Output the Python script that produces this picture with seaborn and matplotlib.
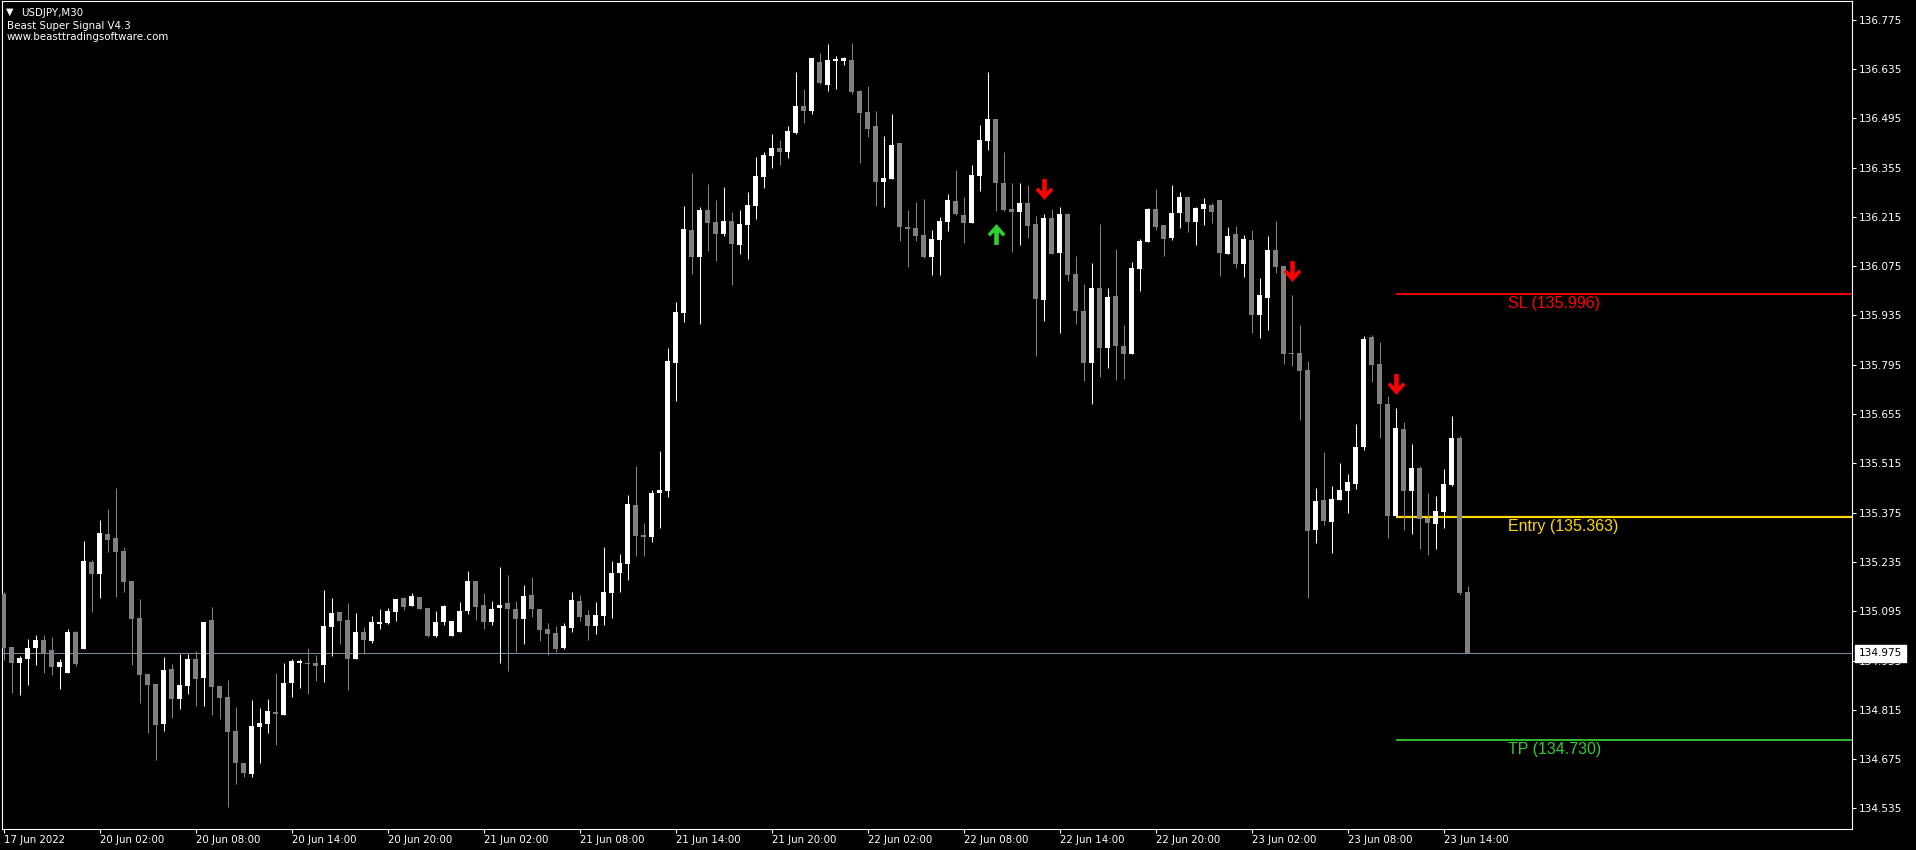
import numpy as np
import matplotlib
matplotlib.use("Agg")
import matplotlib.pyplot as plt
import matplotlib.transforms as mtransforms
from matplotlib.path import Path
import seaborn as sns

header_lines = ["USDJPY,M30", "Beast Super Signal V4.3", "www.beasttradingsoftware.com"]

opens = [135.144, 134.994, 134.948, 134.959, 134.991, 135.013, 134.985, 134.937, 134.920, 135.036,
         134.988, 135.235, 135.201, 135.314, 135.303, 135.266, 135.181, 135.076, 134.917, 134.888,
         134.775, 134.931, 134.846, 134.883, 134.959, 134.906, 135.070, 134.883, 134.852, 134.755,
         134.664, 134.633, 134.766, 134.775, 134.809, 134.800, 134.891, 134.948, 134.948, 134.948,
         134.942, 135.050, 135.093, 135.070, 134.959, 135.036, 135.011, 135.059, 135.062, 135.093,
         135.133, 135.110, 135.136, 135.104, 135.025, 135.065, 135.025, 135.036, 135.096, 135.181,
         135.113, 135.065, 135.104, 135.118, 135.101, 135.073, 135.141, 135.101, 135.045, 135.033,
         134.991, 135.047, 135.124, 135.085, 135.053, 135.082, 135.147, 135.204, 135.229, 135.397,
         135.312, 135.306, 135.431, 135.437, 135.800, 135.942, 136.178, 136.101, 136.235, 136.201,
         136.166, 136.203, 136.135, 136.192, 136.246, 136.328, 136.388, 136.411, 136.399, 136.453,
         136.530, 136.516, 136.655, 136.590, 136.658, 136.658, 136.661, 136.573, 136.513, 136.473,
         136.314, 136.323, 136.425, 136.186, 136.183, 136.164, 136.101, 136.149, 136.201, 136.260,
         136.220, 136.198, 136.331, 136.431, 136.493, 136.311, 136.237, 136.229, 136.254, 136.195,
         135.979, 136.212, 136.112, 136.223, 136.053, 135.948, 135.800, 136.013, 135.843, 135.990,
         135.848, 135.826, 136.067, 136.144, 136.237, 136.192, 136.155, 136.226, 136.272, 136.201,
         136.237, 136.249, 136.263, 136.110, 136.166, 136.081, 136.149, 135.936, 135.985, 136.121,
         136.076, 135.829, 135.828, 135.780, 135.326, 135.411, 135.349, 135.411, 135.437, 135.456,
         135.562, 135.874, 135.797, 135.684, 135.366, 135.613, 135.437, 135.502, 135.360, 135.343,
         135.377, 135.454, 135.587, 135.150]

highs = [135.150, 134.994, 134.968, 135.016, 135.028, 135.028, 135.022, 134.959, 135.045, 135.039,
         135.295, 135.241, 135.354, 135.385, 135.445, 135.278, 135.181, 135.130, 134.917, 134.888,
         134.965, 134.945, 134.974, 134.974, 134.982, 135.065, 135.107, 134.883, 134.900, 134.823,
         134.664, 134.843, 134.820, 134.846, 134.920, 134.948, 134.959, 134.959, 134.991, 134.971,
         135.155, 135.133, 135.093, 135.118, 135.090, 135.050, 135.082, 135.101, 135.104, 135.130,
         135.136, 135.147, 135.136, 135.104, 135.096, 135.113, 135.067, 135.121, 135.209, 135.181,
         135.147, 135.124, 135.221, 135.198, 135.124, 135.170, 135.192, 135.101, 135.062, 135.053,
         135.062, 135.150, 135.141, 135.099, 135.121, 135.278, 135.238, 135.258, 135.425, 135.508,
         135.346, 135.439, 135.550, 135.843, 135.973, 136.246, 136.340, 136.243, 136.308, 136.263,
         136.300, 136.229, 136.235, 136.286, 136.385, 136.399, 136.450, 136.433, 136.473, 136.627,
         136.578, 136.666, 136.680, 136.706, 136.672, 136.669, 136.709, 136.575, 136.587, 136.516,
         136.445, 136.507, 136.425, 136.235, 136.257, 136.266, 136.178, 136.215, 136.280, 136.348,
         136.272, 136.362, 136.476, 136.627, 136.493, 136.399, 136.311, 136.311, 136.306, 136.218,
         136.223, 136.237, 136.243, 136.226, 136.104, 136.024, 136.084, 136.195, 136.013, 136.124,
         135.908, 136.087, 136.152, 136.240, 136.294, 136.192, 136.306, 136.286, 136.274, 136.243,
         136.269, 136.254, 136.263, 136.186, 136.189, 136.164, 136.178, 136.041, 136.161, 136.203,
         136.076, 135.993, 135.908, 135.806, 135.445, 135.547, 135.451, 135.516, 135.485, 135.627,
         135.877, 135.880, 135.860, 135.706, 135.672, 135.633, 135.570, 135.508, 135.431, 135.422,
         135.499, 135.650, 135.593, 135.167]

lows = [134.957, 134.863, 134.857, 134.886, 134.942, 134.920, 134.914, 134.874, 134.920, 134.940,
        134.988, 135.093, 135.133, 135.263, 135.136, 135.150, 134.942, 134.834, 134.749, 134.673,
        134.755, 134.792, 134.817, 134.860, 134.826, 134.826, 134.800, 134.789, 134.539, 134.604,
        134.624, 134.624, 134.664, 134.749, 134.715, 134.800, 134.852, 134.877, 134.860, 134.897,
        134.894, 134.968, 135.002, 134.871, 134.959, 134.974, 135.005, 135.045, 135.059, 135.067,
        135.099, 135.110, 135.101, 135.022, 135.022, 135.056, 135.025, 135.036, 135.087, 135.070,
        135.045, 135.056, 134.948, 134.925, 134.979, 135.002, 135.079, 135.011, 134.971, 134.979,
        134.988, 135.036, 135.067, 135.013, 135.030, 135.056, 135.076, 135.150, 135.184, 135.252,
        135.252, 135.292, 135.331, 135.420, 135.692, 135.917, 136.053, 135.911, 136.118, 136.090,
        136.161, 136.022, 136.110, 136.095, 136.209, 136.297, 136.354, 136.362, 136.382, 136.450,
        136.482, 136.507, 136.592, 136.573, 136.578, 136.646, 136.564, 136.368, 136.442, 136.246,
        136.243, 136.323, 136.147, 136.073, 136.147, 136.098, 136.050, 136.050, 136.175, 136.220,
        136.141, 136.198, 136.289, 136.405, 136.232, 136.232, 136.115, 136.135, 136.155, 135.820,
        135.919, 136.110, 135.885, 136.033, 135.911, 135.749, 135.684, 135.760, 135.786, 135.752,
        135.755, 135.826, 136.005, 136.144, 136.178, 136.104, 136.149, 136.183, 136.172, 136.135,
        136.192, 136.198, 136.047, 136.110, 136.070, 136.044, 135.885, 135.871, 135.894, 136.056,
        135.797, 135.792, 135.638, 135.133, 135.289, 135.340, 135.261, 135.411, 135.374, 135.442,
        135.553, 135.746, 135.587, 135.303, 135.363, 135.326, 135.314, 135.272, 135.255, 135.272,
        135.331, 135.451, 135.141, 134.975]

closes = [134.991, 134.948, 134.962, 134.991, 135.013, 134.974, 134.937, 134.951, 135.036, 134.945,
          135.238, 135.201, 135.317, 135.297, 135.263, 135.178, 135.073, 134.914, 134.886, 134.772,
          134.928, 134.846, 134.886, 134.959, 134.903, 135.065, 134.880, 134.849, 134.752, 134.664,
          134.636, 134.769, 134.778, 134.812, 134.803, 134.891, 134.954, 134.954, 134.945, 134.940,
          135.053, 135.090, 135.067, 134.959, 135.036, 135.013, 135.065, 135.065, 135.096, 135.130,
          135.107, 135.138, 135.101, 135.025, 135.065, 135.110, 135.067, 135.096, 135.181, 135.107,
          135.065, 135.101, 135.113, 135.101, 135.073, 135.138, 135.101, 135.042, 135.030, 134.988,
          135.053, 135.127, 135.079, 135.053, 135.085, 135.150, 135.204, 135.232, 135.400, 135.309,
          135.306, 135.431, 135.439, 135.806, 135.945, 136.181, 136.101, 136.235, 136.198, 136.166,
          136.203, 136.138, 136.195, 136.249, 136.331, 136.391, 136.411, 136.399, 136.459, 136.530,
          136.516, 136.666, 136.595, 136.661, 136.663, 136.666, 136.570, 136.510, 136.465, 136.314,
          136.325, 136.419, 136.186, 136.181, 136.161, 136.101, 136.152, 136.203, 136.263, 136.223,
          136.198, 136.334, 136.433, 136.493, 136.311, 136.235, 136.229, 136.254, 136.189, 135.982,
          136.212, 136.110, 136.223, 136.050, 135.948, 135.800, 136.013, 135.843, 135.988, 135.848,
          135.826, 136.070, 136.147, 136.237, 136.186, 136.152, 136.226, 136.272, 136.201, 136.240,
          136.252, 136.229, 136.112, 136.161, 136.081, 136.152, 135.936, 135.993, 136.121, 136.073,
          135.826, 135.826, 135.777, 135.323, 135.408, 135.351, 135.414, 135.439, 135.462, 135.562,
          135.868, 135.794, 135.684, 135.366, 135.616, 135.437, 135.502, 135.357, 135.346, 135.380,
          135.456, 135.587, 135.147, 134.975]

xtick_labels = ["17 Jun 2022", "20 Jun 02:00", "20 Jun 08:00", "20 Jun 14:00", "20 Jun 20:00",
                "21 Jun 02:00", "21 Jun 08:00", "21 Jun 14:00", "21 Jun 20:00", "22 Jun 02:00",
                "22 Jun 08:00", "22 Jun 14:00", "22 Jun 20:00", "23 Jun 02:00", "23 Jun 08:00",
                "23 Jun 14:00"]
bars_per_label = 12

up_signal_bars = [124]
up_signal_prices = [136.165]
down_signal_bars = [130, 161, 174]
down_signal_prices = [136.293, 136.060, 135.739]

level_names = ["SL", "Entry", "TP"]
level_prices = [135.996, 135.363, 134.730]
level_colors = ["#FF0000", "#FFD700", "#32CD32"]
level_start_bar = 174
level_label_bar = 188

current_price = 134.975
ytick_start = 134.535
ytick_step = 0.140

assert len(opens) == len(highs) == len(lows) == len(closes)

sns.set_theme(style="dark", rc={
    "axes.facecolor": "black", "figure.facecolor": "black",
    "axes.edgecolor": "white", "axes.linewidth": 0.8,
    "xtick.color": "white", "ytick.color": "white",
    "text.color": "white", "axes.grid": False,
})
plt.rcParams["font.family"] = ["DejaVu Sans"]

fig = plt.figure(figsize=(19.16, 8.5), dpi=100)
ax = fig.add_axes([2 / 1916, 21 / 850, 1850 / 1916, 828 / 850])
x_lo, x_hi = -0.1875, 231.0625
ax.set_xlim(x_lo, x_hi)
ax.set_ylim(134.4765, 136.8279)

o = np.array(opens)
h = np.array(highs)
l = np.array(lows)
c = np.array(closes)
x = np.arange(len(o))
bull = c >= o
colors = np.where(bull, "#FFFFFF", "#808080")

ax.vlines(x, l, h, colors=colors, linewidth=0.75, zorder=2)
ax.bar(x, np.maximum(np.abs(c - o), 0.003), bottom=np.minimum(o, c), width=0.625,
       color=colors, linewidth=0, zorder=3)

# current bid line
ax.hlines(current_price, x_lo, x_hi, color="#778899", linewidth=0.8, zorder=1)

for name, price, col in zip(level_names, level_prices, level_colors):
    lw = 1.6 if name == "Entry" else 1.3
    ax.hlines(price, level_start_bar, x_hi, color=col, linewidth=lw, zorder=1)
    ax.annotate(f"{name} ({price:.3f})", xy=(level_label_bar, price), xytext=(0, -2),
                textcoords="offset pixels", ha="left", va="top", color=col,
                fontsize=11.5, family=["Liberation Sans"])

down_verts = [(-0.22, 1.0), (0.22, 1.0), (0.22, -0.2), (0.62, 0.2), (0.85, -0.05),
              (0.0, -1.0), (-0.85, -0.05), (-0.62, 0.2), (-0.22, -0.2), (-0.22, 1.0)]
down_marker = Path(down_verts, closed=True)
up_marker = Path([(vx, -vy) for vx, vy in down_verts], closed=True)
ax.plot(down_signal_bars, down_signal_prices, linestyle="none", marker=down_marker,
        markersize=15, color="#FF0000", markeredgewidth=0, zorder=5)
ax.plot(up_signal_bars, up_signal_prices, linestyle="none", marker=up_marker,
        markersize=15, color="#32CD32", markeredgewidth=0, zorder=5)

yticks = np.round(ytick_start + ytick_step * np.arange(17), 3)
ax.yaxis.tick_right()
ax.set_yticks(yticks)
ax.set_yticklabels([f"{v:.3f}" for v in yticks], fontsize=7.6)
ax.tick_params(axis="y", right=True, left=False, direction="out", length=3, width=0.8,
               pad=2.2, colors="white")

ax.set_xticks(np.arange(len(xtick_labels)) * bars_per_label)
ax.set_xticklabels(xtick_labels, fontsize=7.4, ha="left")
ax.tick_params(axis="x", bottom=True, direction="out", length=3, width=0.8, pad=1.5,
               colors="white")

for sp in ax.spines.values():
    sp.set_visible(True)
    sp.set_color("white")
    sp.set_linewidth(0.8)

trans = mtransforms.blended_transform_factory(ax.transAxes, ax.transData)
ax.text(1.0 + 7 / 1850, current_price, f"{current_price:.3f}", transform=trans,
        ha="left", va="center", fontsize=7.6, color="black", clip_on=False, zorder=10,
        bbox=dict(boxstyle="square,pad=0.35", fc="white", ec="white"))

fig.text(6 / 1916, 1 - 12.2 / 850, "\u25bc", fontsize=7, va="center", ha="left", color="white")
fig.text(21 / 1916, 1 - 12.7 / 850, header_lines[0], fontsize=7.4, va="center", ha="left")
fig.text(7 / 1916, 1 - 25.7 / 850, header_lines[1], fontsize=7.4, va="center", ha="left")
fig.text(7 / 1916, 1 - 37.3 / 850, header_lines[2], fontsize=7.4, va="center", ha="left")

fig.savefig("out.png", dpi=100, facecolor="black")
